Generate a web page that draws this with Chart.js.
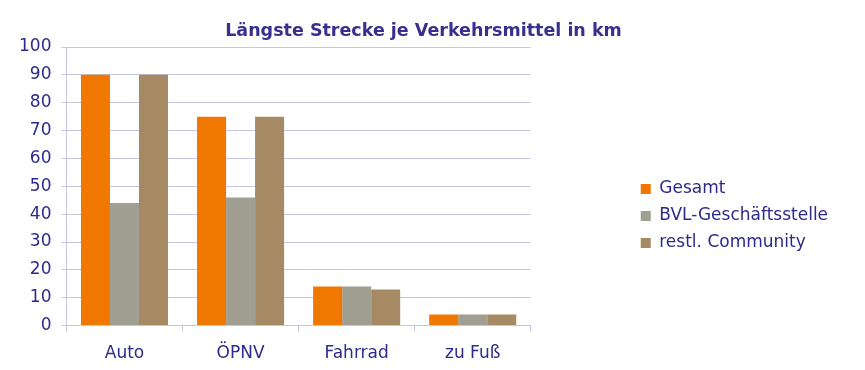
<!DOCTYPE html>
<html>
<head>
<meta charset="utf-8">
<script src="https://cdn.jsdelivr.net/npm/chart.js@4"></script>
<style>
	body { margin: 0; background: #ffffff; }
	#wrap { width: 865px; height: 370px; }
</style>
</head>
<body>
<div id="wrap"><canvas id="chart"></canvas></div>
<script>
const categories = ["Auto", "ÖPNV", "Fahrrad", "zu Fuß"];
const seriesNames = ["Gesamt", "BVL-Geschäftsstelle", "restl. Community"];
const gesamt = [90, 75, 14, 4];
const geschaeftsstelle = [44, 46, 14, 4];
const community = [90, 75, 13, 4];
const yTicks = [0, 10, 20, 30, 40, 50, 60, 70, 80, 90, 100];

const textColor = "#2e2a8c";
const gridColor = "#c6c6e2";
const legendGap = 100;
const legendDrop = 26;

// push the legend away from the plot area and a bit lower
const legendShift = {
	id: "legendShift",
	beforeInit(chart) {
		const legend = chart.legend;
		const origFit = legend.fit;
		legend.fit = function () {
			origFit.call(this);
			this.width += legendGap;
		};
	},
	afterLayout(chart) {
		chart.legend.left += legendGap;
		chart.legend.top += legendDrop;
		chart.legend.bottom += legendDrop;
	},
};

new Chart(document.getElementById("chart"), {
	type: "bar",
	data: {
		labels: categories,
		datasets: [
			{ label: seriesNames[0], data: gesamt, backgroundColor: "#f07800" },
			{ label: seriesNames[1], data: geschaeftsstelle, backgroundColor: "#a09f92" },
			{ label: seriesNames[2], data: community, backgroundColor: "#a68a63" },
		],
	},
	plugins: [legendShift],
	options: {
		responsive: true,
		maintainAspectRatio: false,
		animation: false,
		categoryPercentage: 0.75,
		barPercentage: 1.0,
		layout: { padding: { left: 9, right: 27, top: 4, bottom: -6 } },
		plugins: {
			title: {
				display: true,
				text: "Längste Strecke je Verkehrsmittel in km",
				color: "#3a2f8f",
				font: { family: "DejaVu Sans", size: 17.5, weight: "bold" },
				padding: { top: 17, bottom: 5 },
			},
			legend: {
				position: "right",
				labels: {
					color: textColor,
					font: { family: "DejaVu Sans", size: 17 },
					boxWidth: 10,
					boxHeight: 10,
					padding: 10,
				},
			},
			tooltip: { enabled: false },
		},
		scales: {
			x: {
				grid: {
					drawOnChartArea: false,
					color: gridColor,
					tickLength: 6,
				},
				border: { color: gridColor },
				ticks: {
					color: textColor,
					font: { family: "DejaVu Sans", size: 17 },
					padding: 12,
				},
			},
			y: {
				min: 0,
				max: 100,
				afterBuildTicks(axis) {
					axis.ticks = yTicks.map((v) => ({ value: v }));
				},
				grid: { color: gridColor, tickLength: 5 },
				border: { color: gridColor },
				ticks: {
					color: textColor,
					font: { family: "DejaVu Sans", size: 17 },
					padding: 10,
				},
			},
		},
	},
});
</script>
</body>
</html>
